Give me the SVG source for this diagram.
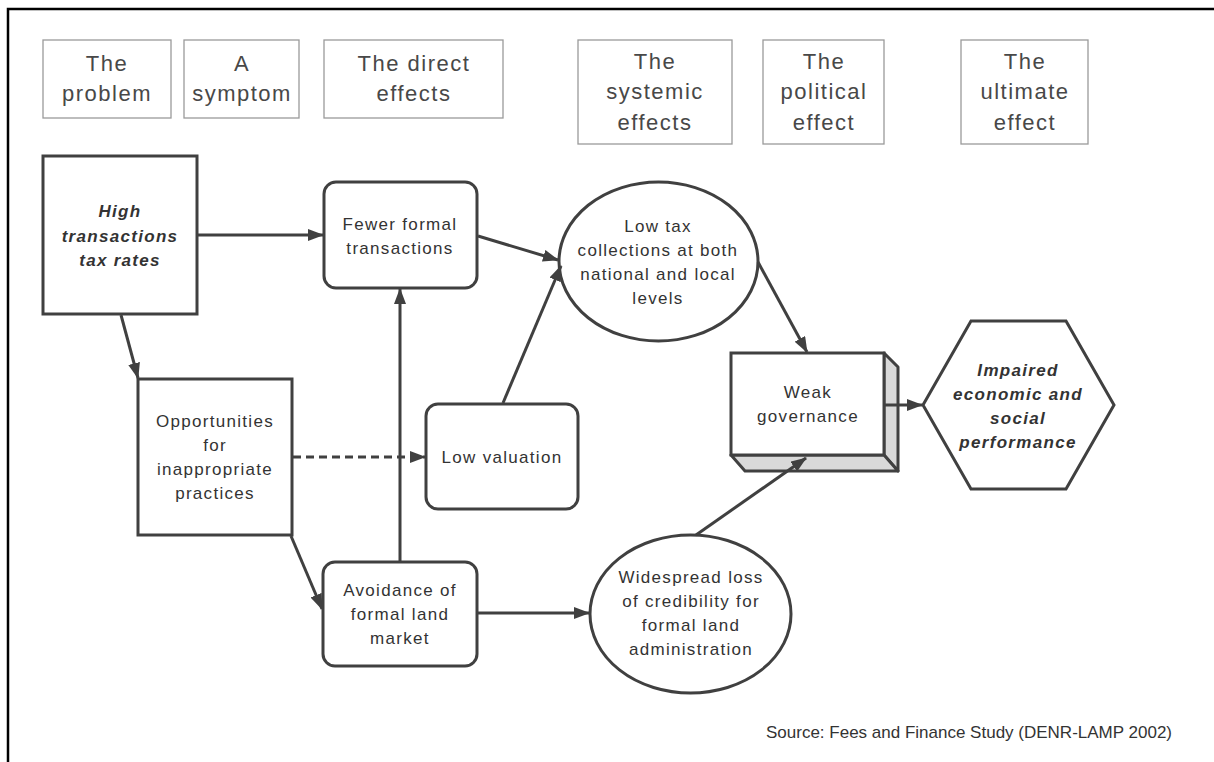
<svg xmlns="http://www.w3.org/2000/svg" width="1214" height="762" viewBox="0 0 1214 762">
<defs>
<marker id="ah" viewBox="0 0 16 12" refX="15" refY="6" markerWidth="16" markerHeight="12" markerUnits="userSpaceOnUse" orient="auto">
<path d="M0,0 L16,6 L0,12 z" fill="#404040"/>
</marker>
<style>
.hdr{fill:#fff;stroke:#9a9a9a;stroke-width:1.3}
.ht{font-family:"Liberation Sans",Arial,sans-serif;font-size:22px;letter-spacing:1.5px;fill:#484848;text-anchor:middle}
.nd{fill:#fff;stroke:#404040;stroke-width:3}
.t{font-family:"Liberation Sans",Arial,sans-serif;font-size:17px;letter-spacing:1.3px;fill:#333;text-anchor:middle}
.bi{font-weight:bold;font-style:italic}
.cn{fill:none;stroke:#404040;stroke-width:3;marker-end:url(#ah)}
.dash{stroke-dasharray:8 5}
.side{fill:#d9d9d9;stroke:#404040;stroke-width:3;stroke-linejoin:round}
</style>
</defs>
<rect width="1214" height="762" fill="#fff"/>
<path d="M8,762 V9 H1214" fill="none" stroke="#000" stroke-width="2.5"/>

<g id="h-problem"><rect class="hdr" x="43" y="40" width="128" height="78"/><text class="ht" x="107" y="71">The</text><text class="ht" x="107" y="101">problem</text></g>
<g id="h-symptom"><rect class="hdr" x="184" y="40" width="115" height="78"/><text class="ht" x="242" y="71">A</text><text class="ht" x="242" y="101">symptom</text></g>
<g id="h-direct"><rect class="hdr" x="324" y="40" width="179" height="78"/><text class="ht" x="414" y="71">The direct</text><text class="ht" x="414" y="101">effects</text></g>
<g id="h-systemic"><rect class="hdr" x="578" y="40" width="154" height="104"/><text class="ht" x="655" y="69">The</text><text class="ht" x="655" y="99">systemic</text><text class="ht" x="655" y="130">effects</text></g>
<g id="h-political"><rect class="hdr" x="763" y="40" width="121" height="104"/><text class="ht" x="824" y="69">The</text><text class="ht" x="824" y="99">political</text><text class="ht" x="824" y="130">effect</text></g>
<g id="h-ultimate"><rect class="hdr" x="961" y="40" width="127" height="104"/><text class="ht" x="1025" y="69">The</text><text class="ht" x="1025" y="99">ultimate</text><text class="ht" x="1025" y="130">effect</text></g>

<g id="n-high"><rect class="nd" x="43" y="156" width="154" height="158"/>
<text class="t bi" x="120" y="217">High</text><text class="t bi" x="120" y="242">transactions</text><text class="t bi" x="120" y="266">tax rates</text></g>

<g id="n-fewer"><rect class="nd" x="324" y="182" width="153" height="106" rx="12"/>
<text class="t" x="400" y="230">Fewer formal</text><text class="t" x="400" y="254">transactions</text></g>

<g id="n-lowtax"><ellipse class="nd" cx="658.5" cy="261.5" rx="99.5" ry="79.5"/>
<text class="t" x="658" y="232">Low tax</text><text class="t" x="658" y="256">collections at both</text><text class="t" x="658" y="280">national and local</text><text class="t" x="658" y="304">levels</text></g>

<g id="n-opp"><rect class="nd" x="138" y="379" width="154" height="156"/>
<text class="t" x="215" y="427">Opportunities</text><text class="t" x="215" y="451">for</text><text class="t" x="215" y="475">inappropriate</text><text class="t" x="215" y="499">practices</text></g>

<g id="n-lowval"><rect class="nd" x="426" y="404" width="152" height="105" rx="12"/>
<text class="t" x="502" y="463">Low valuation</text></g>

<g id="n-avoid"><rect class="nd" x="323" y="562" width="154" height="104" rx="12"/>
<text class="t" x="400" y="596">Avoidance of</text><text class="t" x="400" y="620">formal land</text><text class="t" x="400" y="644">market</text></g>

<g id="n-wide"><ellipse class="nd" cx="690.5" cy="614" rx="100.5" ry="79"/>
<text class="t" x="691" y="583">Widespread loss</text><text class="t" x="691" y="607">of credibility for</text><text class="t" x="691" y="631">formal land</text><text class="t" x="691" y="655">administration</text></g>

<g id="n-weak">
<polygon class="side" points="884,353 898,367 898,471 884,455"/>
<polygon class="side" points="731,455 884,455 898,471 745,471"/>
<rect class="nd" x="731" y="353" width="153" height="102"/>
<text class="t" x="808" y="398">Weak</text><text class="t" x="808" y="422">governance</text></g>

<g id="n-impaired"><polygon class="nd" points="923,405 971,321 1066,321 1114,405 1066,489 971,489"/>
<text class="t bi" x="1018" y="376">Impaired</text><text class="t bi" x="1018" y="400">economic and</text><text class="t bi" x="1018" y="424">social</text><text class="t bi" x="1018" y="448">performance</text></g>

<g id="connectors">
<line class="cn" x1="197" y1="235" x2="323" y2="235"/>
<line class="cn" x1="121" y1="315" x2="138" y2="378"/>
<line class="cn" x1="478" y1="236" x2="558" y2="260"/>
<line class="cn" x1="503" y1="403" x2="561" y2="266"/>
<line class="cn" x1="758" y1="262" x2="807" y2="352"/>
<line class="cn dash" x1="293" y1="457" x2="425" y2="457"/>
<line class="cn" x1="291" y1="536" x2="322" y2="609"/>
<line class="cn" x1="400" y1="561" x2="400" y2="289"/>
<line class="cn" x1="478" y1="613" x2="589" y2="613"/>
<line class="cn" x1="696" y1="535" x2="806" y2="458"/>
<line class="cn" x1="885" y1="405" x2="922" y2="405"/>
</g>

<text x="766" y="738" font-family="'Liberation Sans',Arial,sans-serif" font-size="17" fill="#333">Source: Fees and Finance Study (DENR-LAMP 2002)</text>
</svg>
